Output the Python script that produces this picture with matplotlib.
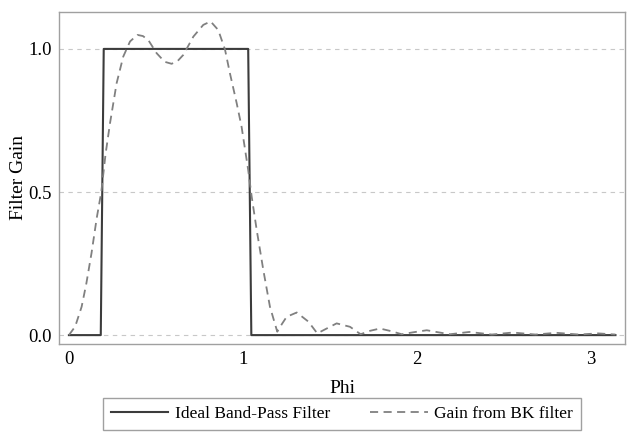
#!/usr/bin/env python3

import matplotlib
matplotlib.use('Agg')
import matplotlib.pyplot as plt

# Ideal band-pass filter
ideal_phi = [0.0, 0.183, 0.200, 1.030, 1.048, 3.14]
ideal_gain = [0.0, 0.0, 1.0, 1.0, 0.0, 0.0]

# Gain from BK filter
bk_phi = [0.0, 0.036, 0.073, 0.10, 0.130, 0.16, 0.186, 0.21, 0.236, 0.274,
          0.312, 0.351, 0.393, 0.425, 0.456, 0.504, 0.55, 0.590, 0.625, 0.657,
          0.715, 0.772, 0.814, 0.858, 0.897, 0.925, 0.964, 0.992, 1.030, 1.050,
          1.079, 1.117, 1.155, 1.197, 1.225, 1.251, 1.309, 1.376, 1.427, 1.481,
          1.538, 1.615, 1.676, 1.73, 1.787, 1.85, 1.912, 1.98, 2.056, 2.12,
          2.19, 2.30, 2.43, 2.55, 2.68, 2.80, 2.93, 3.04, 3.14]
bk_gain = [0.0, 0.03, 0.099, 0.18, 0.287, 0.41, 0.50, 0.63, 0.74, 0.88,
           0.973, 1.026, 1.049, 1.045, 1.031, 0.985, 0.955, 0.948, 0.958, 0.979,
           1.043, 1.084, 1.096, 1.066, 0.997, 0.915, 0.81, 0.728, 0.577, 0.484,
           0.367, 0.227, 0.099, 0.012, 0.04, 0.064, 0.079, 0.047, 0.006, 0.023,
           0.041, 0.029, 0.003, 0.015, 0.023, 0.014, 0.003, 0.010, 0.017, 0.010,
           0.003, 0.011, 0.002, 0.009, 0.002, 0.008, 0.002, 0.006, 0.002]

x_ticks = [0, 1, 2, 3]
y_ticks = [0.0, 0.5, 1.0]


def main():
    plt.rcParams['font.family'] = ['Liberation Serif', 'DejaVu Serif']
    plt.rcParams['font.size'] = 12.5

    fig = plt.figure(figsize=(6.33, 4.41), dpi=100)
    ax = fig.add_axes([0.0932, 0.22, 0.8942, 0.7528])

    ax.plot(ideal_phi, ideal_gain, color='#3c3c3c', lw=1.5,
            label='Ideal Band-Pass Filter')
    ax.plot(bk_phi, bk_gain, color='#808080', lw=1.3, dashes=(4.5, 3),
            label='Gain from BK filter')

    # Configure axes
    ax.set_xlim(-0.057, 3.195)
    ax.set_ylim(-0.031, 1.129)
    ax.set_xticks(x_ticks)
    ax.set_xticklabels([str(t) for t in x_ticks])
    ax.set_yticks(y_ticks)
    ax.set_yticklabels(['%.1f' % t for t in y_ticks])
    ax.tick_params(length=0, pad=5, labelsize=13.5)
    ax.yaxis.grid(True, color='#c8c8c8', lw=0.8, dashes=(4, 4))
    ax.set_axisbelow(True)
    for s in ax.spines.values():
        s.set_color('#a0a0a0')
        s.set_linewidth(1.0)

    ax.set_xlabel('Phi', fontsize=14, labelpad=9)
    ax.set_ylabel('Filter Gain', fontsize=14, labelpad=1)

    leg = ax.legend(loc='upper center', ncol=2,
                    bbox_to_anchor=(342 / 633, 1 - 398 / 441),
                    bbox_transform=fig.transFigure, borderaxespad=0,
                    fancybox=False, framealpha=1, edgecolor='#a0a0a0',
                    handlelength=3.3, handletextpad=0.4, columnspacing=2.3,
                    borderpad=0.45, fontsize=12.5)
    leg.get_frame().set_linewidth(1.0)

    fig.savefig('out.png', dpi=100)
    plt.close(fig)


if __name__ == '__main__':
    main()
